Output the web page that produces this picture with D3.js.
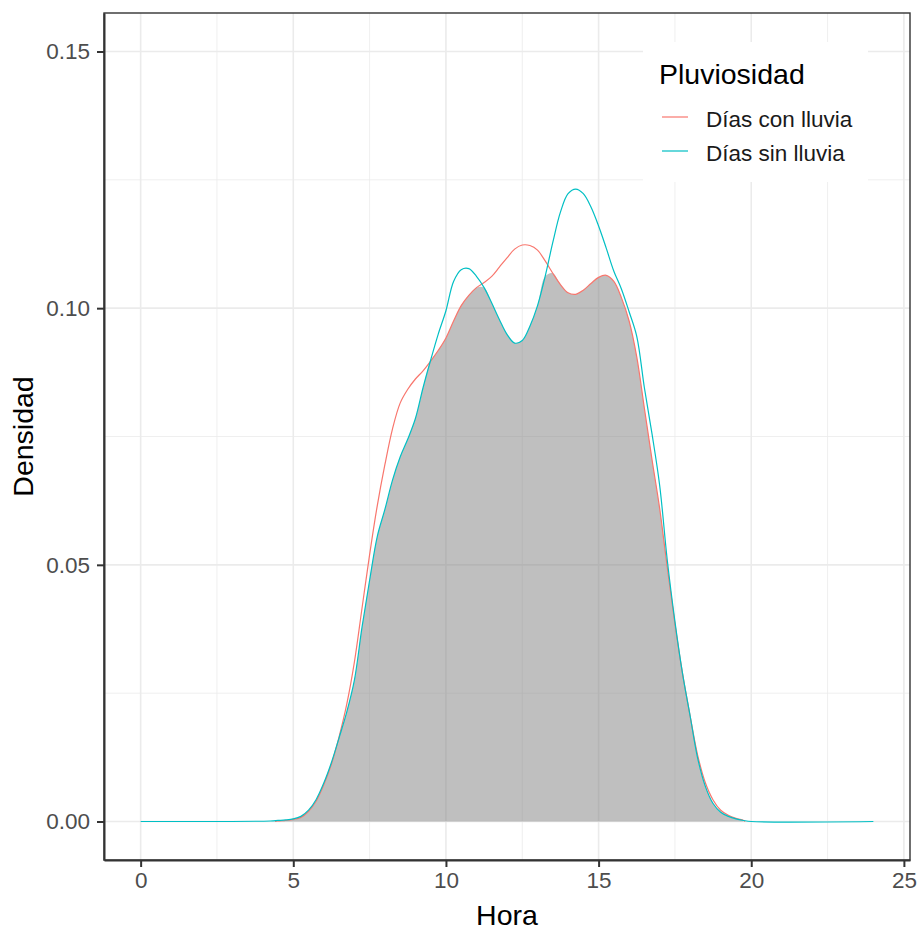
<!DOCTYPE html>
<html>
<head>
<meta charset="utf-8">
<script src="https://cdn.jsdelivr.net/npm/d3@7"></script>
<style>
  body { margin: 0; background: #fff; }
  text { font-family: "Liberation Sans", Arial, sans-serif; }
</style>
</head>
<body>
<svg width="919" height="931"></svg>
<script>
// horas de la rejilla donde se leyeron las densidades
let horas = d3.range(4.5, 19.76, 0.25);

let densConLluvia = [
  0.0001, 0.0002, 0.0004, 0.0008, 0.0020, 0.0040, 0.0072, 0.0112, 0.0165, 0.0228,
  0.0310, 0.0415, 0.0520, 0.0615, 0.0695, 0.0765, 0.0815, 0.0842, 0.0862, 0.0878,
  0.0897, 0.0918, 0.0942, 0.0975, 0.1005, 0.1025, 0.1040, 0.1050, 0.1062, 0.1080,
  0.1098, 0.1115, 0.1123, 0.1122, 0.1113, 0.1092, 0.1068, 0.1046, 0.1030, 0.1027,
  0.1035, 0.1048, 0.1060, 0.1064, 0.1052, 0.1020, 0.0975, 0.0905, 0.0805, 0.0705,
  0.0610, 0.0495, 0.0385, 0.0288, 0.0205, 0.0128, 0.0075, 0.0042, 0.0022, 0.0012,
  0.0006, 0.0002
];

let densSinLluvia = [
  0.0002, 0.0003, 0.0005, 0.0010, 0.0022, 0.0043, 0.0075, 0.0115, 0.0163, 0.0213,
  0.0275, 0.0378, 0.0470, 0.0555, 0.0608, 0.0665, 0.0710, 0.0745, 0.0785, 0.0845,
  0.0899, 0.0950, 0.0995, 0.1052, 0.1075, 0.1077, 0.1062, 0.1040, 0.1010, 0.0978,
  0.0949, 0.0932, 0.0937, 0.0965, 0.1005, 0.1062, 0.1128, 0.1187, 0.1223, 0.1232,
  0.1223, 0.1197, 0.1160, 0.1117, 0.1072, 0.1037, 0.0993, 0.0945, 0.0845, 0.0755,
  0.0655, 0.0509, 0.0390, 0.0288, 0.0205, 0.0122, 0.0068, 0.0035, 0.0018, 0.0010,
  0.0005, 0.0002
];

// tramos planos de "sin lluvia" hasta 0 y 24 h
let colaSinLluvia = [[0, 0], [4.25, 0.0001]];
let finSinLluvia = [[20, 0], [24, 0]];
let inicioConLluvia = [[4.4, 0]];
let finConLluvia = [[19.8, 0]];

let series = ["Días con lluvia", "Días sin lluvia"];
let colores = ["#F8766D", "#00BFC4"];
let xTicks = [0, 5, 10, 15, 20, 25];
let yTicks = [0, 0.05, 0.1, 0.15];

let pLeft = 104, pRight = 910, pTop = 13, pBottom = 860;

let x = d3.scaleLinear().domain([-1.2, 25.2]).range([pLeft, pRight]);
let y = d3.scaleLinear().domain([-0.0075, 0.1575]).range([pBottom, pTop]);

let svg = d3.select("svg");

// panel
svg.append("rect")
  .attr("x", pLeft).attr("y", pTop)
  .attr("width", pRight - pLeft).attr("height", pBottom - pTop)
  .attr("fill", "#fff");

let grid = svg.append("g");
d3.range(2.5, 25, 5).forEach(v => {
  grid.append("line")
    .attr("x1", x(v)).attr("x2", x(v)).attr("y1", pTop).attr("y2", pBottom)
    .attr("stroke", "#EBEBEB").attr("stroke-width", 0.8);
});
[0.025, 0.075, 0.125].forEach(v => {
  grid.append("line")
    .attr("x1", pLeft).attr("x2", pRight).attr("y1", y(v)).attr("y2", y(v))
    .attr("stroke", "#EBEBEB").attr("stroke-width", 0.8);
});
xTicks.forEach(v => {
  grid.append("line")
    .attr("x1", x(v)).attr("x2", x(v)).attr("y1", pTop).attr("y2", pBottom)
    .attr("stroke", "#EBEBEB").attr("stroke-width", 1.6);
});
yTicks.forEach(v => {
  grid.append("line")
    .attr("x1", pLeft).attr("x2", pRight).attr("y1", y(v)).attr("y2", y(v))
    .attr("stroke", "#EBEBEB").attr("stroke-width", 1.6);
});

// area de solapamiento (minimo de ambas densidades)
let solape = horas.map((h, i) => [h, Math.min(densConLluvia[i], densSinLluvia[i])]);

let area = d3.area()
  .x(d => x(d[0]))
  .y0(y(0))
  .y1(d => y(d[1]))
  .curve(d3.curveCatmullRom);

svg.append("path")
  .datum(solape)
  .attr("d", area)
  .attr("fill", "rgba(127,127,127,0.5)");

let line = d3.line()
  .x(d => x(d[0]))
  .y(d => y(d[1]))
  .curve(d3.curveCatmullRom);

let conLluvia = inicioConLluvia
  .concat(horas.map((h, i) => [h, densConLluvia[i]]))
  .concat(finConLluvia);
let sinLluvia = colaSinLluvia
  .concat(horas.map((h, i) => [h, densSinLluvia[i]]))
  .concat(finSinLluvia);

[conLluvia, sinLluvia].forEach((d, i) => {
  svg.append("path")
    .datum(d)
    .attr("d", line)
    .attr("fill", "none")
    .attr("stroke", colores[i])
    .attr("stroke-width", 1.2);
});

// legend
let leg = svg.append("g");
leg.append("rect")
  .attr("x", 643).attr("y", 42).attr("width", 225).attr("height", 140)
  .attr("fill", "#fff");
leg.append("text")
  .attr("x", 659).attr("y", 84)
  .attr("font-size", 28.5)
  .attr("fill", "#000")
  .text("Pluviosidad");
series.forEach((s, i) => {
  leg.append("line")
    .attr("x1", 662).attr("x2", 688)
    .attr("y1", 117 + i * 34).attr("y2", 117 + i * 34)
    .attr("stroke", colores[i]).attr("stroke-width", 1.2);
  leg.append("text")
    .attr("x", 706).attr("y", 127 + i * 34)
    .attr("font-size", 22.5)
    .attr("fill", "#1a1a1a")
    .text(s);
});

// border
svg.append("rect")
  .attr("x", pLeft).attr("y", pTop)
  .attr("width", pRight - pLeft).attr("height", pBottom - pTop)
  .attr("fill", "none").attr("stroke", "#333").attr("stroke-width", 1.4);

// axes
let xAxis = svg.append("g")
  .attr("transform", `translate(0,${pBottom})`)
  .call(d3.axisBottom(x).tickValues(xTicks).tickSize(7).tickSizeOuter(0).tickPadding(5).tickFormat(d3.format("d")));
let yAxis = svg.append("g")
  .attr("transform", `translate(${pLeft},0)`)
  .call(d3.axisLeft(y).tickValues(yTicks).tickSize(7).tickSizeOuter(0).tickPadding(7).tickFormat(d3.format(".2f")));

[xAxis, yAxis].forEach(a => {
  a.select(".domain").attr("stroke", "#333").attr("stroke-width", 2);
  a.selectAll(".tick line").attr("stroke", "#333").attr("stroke-width", 2);
  a.selectAll(".tick text")
    .attr("font-size", 22.5)
    .attr("fill", "#4D4D4D")
    .style("font-family", "'Liberation Sans', Arial, sans-serif");
});

svg.append("text")
  .attr("x", (pLeft + pRight) / 2).attr("y", 925)
  .attr("text-anchor", "middle")
  .attr("font-size", 28.5)
  .text("Hora");

svg.append("text")
  .attr("transform", `translate(33,${(pTop + pBottom) / 2}) rotate(-90)`)
  .attr("text-anchor", "middle")
  .attr("font-size", 28.5)
  .text("Densidad");
</script>
</body>
</html>
